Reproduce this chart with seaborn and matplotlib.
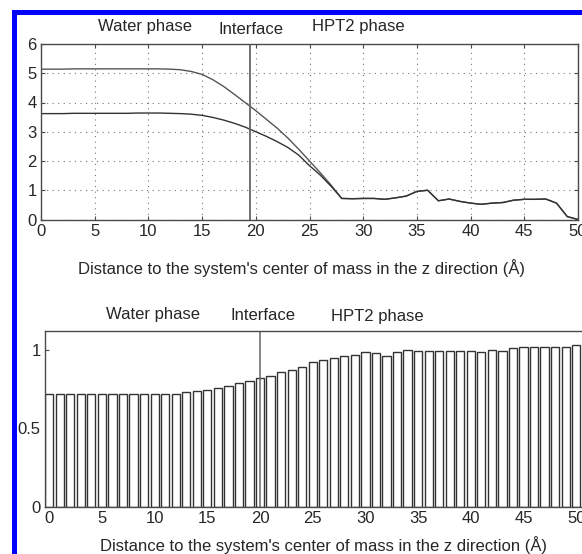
import numpy as np
import pandas as pd
import matplotlib
matplotlib.use("Agg")
import matplotlib.pyplot as plt
from matplotlib.patches import Rectangle
import seaborn as sns

# ---------------- data ----------------
z = list(range(0, 51))

curve_upper = [5.14, 5.14, 5.14, 5.15, 5.15, 5.15, 5.15, 5.15, 5.15, 5.15,
               5.15, 5.15, 5.14, 5.12, 5.06, 4.96, 4.78, 4.55, 4.28, 4.00,
               3.72, 3.42, 3.12, 2.78, 2.40, 2.00, 1.60, 1.18, 0.72, 0.71,
               0.72, 0.72, 0.69, 0.74, 0.80, 0.96, 1.00, 0.64, 0.70, 0.62,
               0.56, 0.52, 0.56, 0.58, 0.66, 0.69, 0.69, 0.70, 0.56, 0.10,
               0.00]

curve_lower = [3.62, 3.62, 3.62, 3.63, 3.63, 3.63, 3.63, 3.63, 3.63, 3.64,
               3.64, 3.64, 3.63, 3.62, 3.60, 3.56, 3.49, 3.40, 3.29, 3.16,
               3.00, 2.84, 2.66, 2.46, 2.20, 1.84, 1.52, 1.14, 0.72, 0.71,
               0.72, 0.72, 0.69, 0.74, 0.80, 0.96, 1.00, 0.64, 0.70, 0.62,
               0.56, 0.52, 0.56, 0.58, 0.66, 0.69, 0.69, 0.70, 0.56, 0.10,
               0.00]

bar_values = [0.72, 0.72, 0.72, 0.72, 0.72, 0.72, 0.72, 0.72, 0.72, 0.72,
              0.72, 0.72, 0.72, 0.727, 0.738, 0.745, 0.755, 0.766, 0.787, 0.802,
              0.819, 0.834, 0.855, 0.872, 0.889, 0.921, 0.936, 0.947, 0.957, 0.968,
              0.985, 0.979, 0.957, 0.985, 0.996, 0.994, 0.994, 0.994, 0.990, 0.994,
              0.994, 0.985, 1.000, 0.994, 1.011, 1.015, 1.015, 1.015, 1.015, 1.015,
              1.026]

top_xticks = [0, 5, 10, 15, 20, 25, 30, 35, 40, 45, 50]
top_yticks = [0, 1, 2, 3, 4, 5, 6]
bot_yticks = [0, 0.5, 1]
bot_yticklabels = ["0", "0.5", "1"]
phase_labels = ["Water phase", "Interface", "HPT2 phase"]
interface_top = 19.5
interface_bottom = 20
xlabel = "Distance to the system's center of mass in the z direction (Å)"

# ---------------- style ----------------
FS = 12
sns.set_style("ticks")
plt.rcParams["font.family"] = ["Liberation Sans", "DejaVu Sans"]
plt.rcParams["font.size"] = FS
plt.rcParams["xtick.direction"] = "in"
plt.rcParams["ytick.direction"] = "in"
plt.rcParams["xtick.major.size"] = 3
plt.rcParams["ytick.major.size"] = 3

W, H = 582, 554
fig = plt.figure(figsize=(W / 100, H / 100), dpi=100)
fig.patch.set_facecolor("white")

def fx(px):
    return px / W

def fy(py):
    return 1 - py / H

spine_col = "#4a4a4a"

# ---------------- top panel ----------------
ax1 = fig.add_axes([fx(41), fy(219.5), fx(578) - fx(41), fy(44) - fy(219.5)])
df1 = pd.DataFrame({"z": z, "upper": curve_upper, "lower": curve_lower})
sns.lineplot(data=df1, x="z", y="upper", ax=ax1, color="#555555", lw=1.0)
sns.lineplot(data=df1, x="z", y="lower", ax=ax1, color="#333333", lw=1.0)
ax1.axvline(interface_top, color="#666666", lw=1.3)
ax1.set_xlim(0, 50)
ax1.set_ylim(0, 6)
ax1.set_xticks(top_xticks)
ax1.set_yticks(top_yticks)
ax1.grid(True, linestyle=(0, (1, 4)), color="#777777", lw=0.8)
ax1.set_xlabel("")
ax1.set_ylabel("")
ax1.tick_params(top=True, right=True, labelsize=FS, pad=3, color=spine_col)
for s in ax1.spines.values():
    s.set_color(spine_col)
    s.set_linewidth(1.0)
    s.set_visible(True)

# ---------------- bottom panel ----------------
ax2 = fig.add_axes([fx(45), fy(506.7), fx(582) - fx(45), fy(331.5) - fy(506.7)])
df2 = pd.DataFrame({"z": z, "v": bar_values})
sns.barplot(data=df2, x="z", y="v", ax=ax2, native_scale=True, width=0.78,
            color="white", edgecolor="#333333", linewidth=1.0, errorbar=None,
            saturation=1)
ax2.axvline(interface_bottom, color="#666666", lw=1.1)
ax2.set_xlim(-0.4, 50.55)
ax2.set_ylim(0, 1.115)
ax2.set_xticks(top_xticks)
ax2.set_xticklabels([str(t) for t in top_xticks])
ax2.set_yticks(bot_yticks)
ax2.set_yticklabels(bot_yticklabels)
ax2.set_xlabel("")
ax2.set_ylabel("")
ax2.grid(False)
ax2.tick_params(labelsize=FS, pad=3, color=spine_col)
for name, s in ax2.spines.items():
    s.set_color(spine_col)
    s.set_linewidth(1.0)
ax2.spines["right"].set_visible(False)
ax2.spines["top"].set_visible(True)

# ---------------- texts ----------------
fig.text(fx(144.5), fy(27), phase_labels[0], ha="center", va="center", fontsize=FS)
fig.text(fx(250.5), fy(29), phase_labels[1], ha="center", va="center", fontsize=FS)
fig.text(fx(358), fy(27), phase_labels[2], ha="center", va="center", fontsize=FS)
fig.text(fx(153), fy(315), phase_labels[0], ha="center", va="center", fontsize=FS)
fig.text(fx(262.5), fy(315), phase_labels[1], ha="center", va="center", fontsize=FS)
fig.text(fx(377), fy(316), phase_labels[2], ha="center", va="center", fontsize=FS)
fig.text(fx(301.5), fy(268), xlabel, ha="center", va="center", fontsize=FS)
fig.text(fx(323), fy(545), xlabel, ha="center", va="center", fontsize=FS)

# ---------------- blue frame ----------------
fig.add_artist(Rectangle((fx(11.7), 0), fx(16.7) - fx(11.7), fy(10), transform=fig.transFigure,
                         facecolor="#0000ff", edgecolor="none"))
fig.add_artist(Rectangle((fx(11.7), fy(15)), 1 - fx(11.7), fy(10) - fy(15), transform=fig.transFigure,
                         facecolor="#0000ff", edgecolor="none"))

fig.savefig("out.png", dpi=100, facecolor="white")
